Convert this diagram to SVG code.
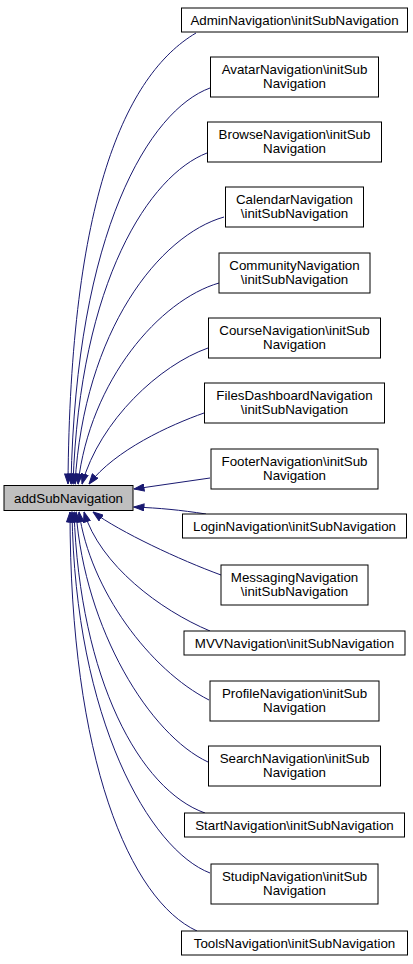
<svg xmlns="http://www.w3.org/2000/svg" width="413" height="964" viewBox="0 0 413 964">
<style>
.n rect{fill:#fff;stroke:#000;stroke-width:1}
#main rect{fill:#bfbfbf}
text{font-family:"Liberation Sans",Arial,Helvetica,sans-serif;font-size:13.33px;fill:#000;text-anchor:middle}
.e path{fill:none;stroke:#191970;stroke-width:1;marker-end:url(#ah)}
</style>
<defs>
<marker id="ah" markerUnits="userSpaceOnUse" markerWidth="11" markerHeight="8" refX="10.5" refY="4" orient="auto">
<path d="M0.5,0.5 L10.5,4 L0.5,7.5 z" fill="#191970" stroke="#191970" stroke-width="1"/>
</marker>
</defs>
<rect width="413" height="964" fill="#fff"/>
<g class="e" id="edges">
<path d="M196,33 C125,75 70,200 68,484"/>
<path d="M210,88 C150,110 76,230 71,484"/>
<path d="M207,153 C150,175 80,280 73,484"/>
<path d="M224,217 C160,235 84,330 75,484"/>
<path d="M219,283 C160,300 90,380 78,484"/>
<path d="M208,348 C160,365 100,420 82,484"/>
<path d="M204,413 C170,425 115,450 89,484"/>
<path d="M210,478 L134,489"/>
<path d="M206,514 C180,510 160,508 134,507"/>
<path d="M221,575 C180,560 120,532 93,512"/>
<path d="M210,631 C160,610 100,565 84,512"/>
<path d="M209,700 C150,670 90,590 79,512"/>
<path d="M208,762 C150,735 85,630 76,512"/>
<path d="M205,813 C140,790 80,680 74,512"/>
<path d="M210,873 C150,850 75,720 72,512"/>
<path d="M197,931 C130,900 70,760 70,512"/>
</g>
<g id="main" class="n"><rect x="4" y="485.5" width="129" height="25"/><text x="68.5" y="502.5">addSubNavigation</text></g>
<g id="n1" class="n"><rect x="181.5" y="8" width="226" height="24"/><text x="294.5" y="24.5">AdminNavigation\initSubNavigation</text></g>
<g id="n2" class="n"><rect x="210.5" y="57" width="168" height="40"/><text x="294.5" y="73.5">AvatarNavigation\initSub</text><text x="294.5" y="88">Navigation</text></g>
<g id="n3" class="n"><rect x="207.5" y="122" width="174" height="40"/><text x="294.5" y="138.5">BrowseNavigation\initSub</text><text x="294.5" y="153">Navigation</text></g>
<g id="n4" class="n"><rect x="225.5" y="187" width="138" height="40"/><text x="294.5" y="203.5">CalendarNavigation</text><text x="294.5" y="218">\initSubNavigation</text></g>
<g id="n5" class="n"><rect x="219" y="253" width="151" height="40"/><text x="294.5" y="269.5">CommunityNavigation</text><text x="294.5" y="284">\initSubNavigation</text></g>
<g id="n6" class="n"><rect x="208.5" y="318" width="172" height="40"/><text x="294.5" y="334.5">CourseNavigation\initSub</text><text x="294.5" y="349">Navigation</text></g>
<g id="n7" class="n"><rect x="204.5" y="383" width="180" height="40"/><text x="294.5" y="399.5">FilesDashboardNavigation</text><text x="294.5" y="414">\initSubNavigation</text></g>
<g id="n8" class="n"><rect x="211" y="449" width="167" height="40"/><text x="294.5" y="465.5">FooterNavigation\initSub</text><text x="294.5" y="480">Navigation</text></g>
<g id="n9" class="n"><rect x="182.5" y="514" width="224" height="24"/><text x="294.5" y="530.5">LoginNavigation\initSubNavigation</text></g>
<g id="n10" class="n"><rect x="221" y="565" width="147" height="40"/><text x="294.5" y="581.5">MessagingNavigation</text><text x="294.5" y="596">\initSubNavigation</text></g>
<g id="n11" class="n"><rect x="184" y="631" width="221" height="24"/><text x="294.5" y="647.5">MVVNavigation\initSubNavigation</text></g>
<g id="n12" class="n"><rect x="210" y="681" width="169" height="40"/><text x="294.5" y="697.5">ProfileNavigation\initSub</text><text x="294.5" y="712">Navigation</text></g>
<g id="n13" class="n"><rect x="208.5" y="746" width="172" height="40"/><text x="294.5" y="762.5">SearchNavigation\initSub</text><text x="294.5" y="777">Navigation</text></g>
<g id="n14" class="n"><rect x="184.5" y="813" width="220" height="24"/><text x="294.5" y="829.5">StartNavigation\initSubNavigation</text></g>
<g id="n15" class="n"><rect x="211" y="864" width="167" height="40"/><text x="294.5" y="880.5">StudipNavigation\initSub</text><text x="294.5" y="895">Navigation</text></g>
<g id="n16" class="n"><rect x="181.5" y="931" width="226" height="24"/><text x="294.5" y="947.5">ToolsNavigation\initSubNavigation</text></g>
</svg>
